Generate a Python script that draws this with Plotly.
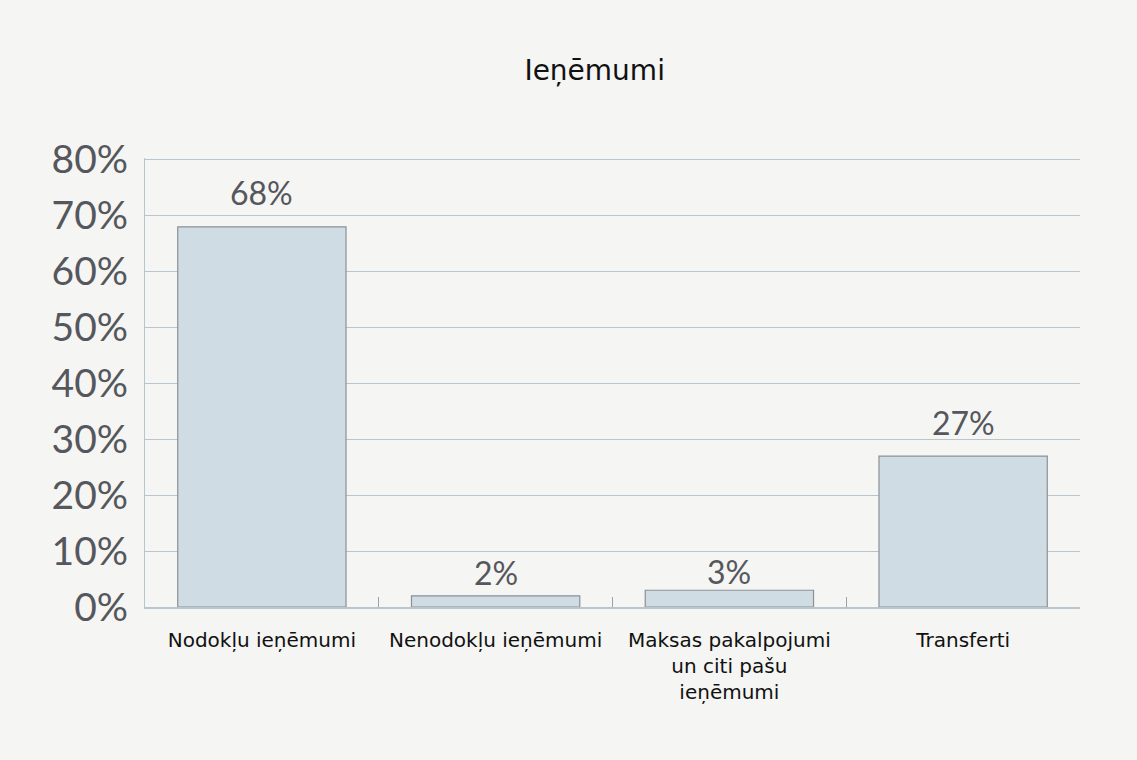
import plotly.graph_objects as go

categories = ["Nodokļu ieņēmumi", "Nenodokļu ieņēmumi",
              "Maksas pakalpojumi<br>un citi pašu<br>ieņēmumi", "Transferti"]
values = [68, 2, 3, 27]
value_labels = ["68%", "2%", "3%", "27%"]
y_ticks = [0, 10, 20, 30, 40, 50, 60, 70, 80]
y_tick_labels = [f"{v}%" for v in y_ticks]

# label offsets above bars (pixels), style only
label_shifts = [13, 2, -3, 12]

bg = "#f5f5f3"
fig = go.Figure(go.Bar(
    x=categories, y=values,
    marker=dict(color="#d0dce3", line=dict(color="#8c9196", width=1.2)),
    width=0.72,
))
for c, v, t, s in zip(categories, values, value_labels, label_shifts):
    fig.add_annotation(x=c, y=v, text=t, showarrow=False, yanchor="bottom", yshift=s,
                       font=dict(size=32, color="#55575c", family="Lato"))
fig.update_layout(
    width=1137, height=760,
    paper_bgcolor=bg, plot_bgcolor=bg,
    margin=dict(l=145, r=57, t=158, b=153),
    title=dict(text="Ieņēmumi", x=0.523, xanchor="center", y=0.908, yanchor="middle",
               font=dict(size=28, color="#111111", family="DejaVu Sans")),
    showlegend=False,
    bargap=0.28,
)
fig.update_yaxes(range=[0, 80.3], tickvals=y_ticks, ticktext=y_tick_labels,
                 showgrid=True, gridcolor="#b9c5cc", gridwidth=1.2,
                 zeroline=False, showline=True, linecolor="#b9c5cc", linewidth=1.2,
                 tickfont=dict(size=39, color="#55575c", family="Lato"),
                 ticks="", ticklabelstandoff=8)
fig.update_xaxes(showline=True, linecolor="#b9c5cc", linewidth=1.5,
                 tickson="boundaries", ticks="inside", ticklen=10, tickcolor="#9aa3a9",
                 tickfont=dict(size=20, color="#111111", family="DejaVu Sans"),
                 ticklabelstandoff=14, showgrid=False)
fig.write_html("out.html", config={"displayModeBar": False},
               post_script="document.body.style.margin='0';document.body.style.background='%s';" % bg)
